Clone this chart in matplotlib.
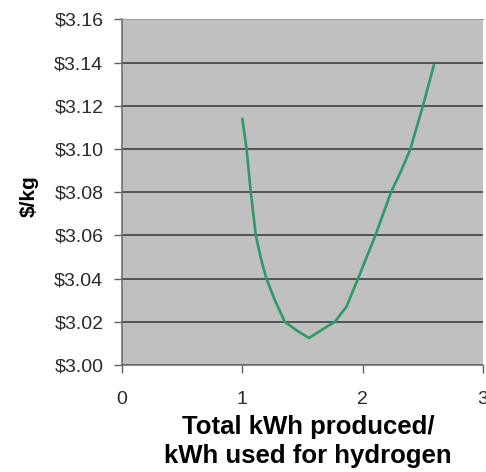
import numpy as np
import matplotlib.pyplot as plt
from matplotlib.ticker import FuncFormatter

# Ratio of total kWh produced to kWh used for hydrogen, and resulting cost
ratio = [1.00, 1.035, 1.07, 1.112, 1.151, 1.20, 1.27, 1.353, 1.452, 1.554,
         1.66, 1.768, 1.865, 1.961, 2.105, 2.235, 2.32, 2.396, 2.50, 2.592]
cost = [3.114, 3.100, 3.080, 3.060, 3.050, 3.040, 3.030, 3.020, 3.016, 3.0125,
        3.0163, 3.020, 3.027, 3.040, 3.060, 3.080, 3.090, 3.100, 3.120, 3.139]

x_ticks = [0, 1, 2, 3]
y_ticks = [3.00, 3.02, 3.04, 3.06, 3.08, 3.10, 3.12, 3.14, 3.16]

plt.rcParams['font.family'] = ['Liberation Sans', 'DejaVu Sans']

fig = plt.figure(figsize=(4.86, 4.72), dpi=100)
ax = fig.add_axes([0.251, 0.2267, 0.743, 0.732])
ax.set_facecolor("#c0c0c0")

ax.plot(ratio, cost, color="#2f9a66", linewidth=1.9,
        solid_joinstyle="round", solid_capstyle="round")

ax.set_xlim(0, 3)
ax.set_ylim(3.00, 3.16)
ax.set_xticks(x_ticks)
ax.set_yticks(y_ticks)
ax.yaxis.set_major_formatter(FuncFormatter(lambda v, p: f"${v:.2f}"))

ax.yaxis.grid(True, color="#4a4a4a", linewidth=1.3)
ax.tick_params(axis="both", direction="out", length=6, width=1,
               color="#606060", labelsize=14, labelcolor="#2a2a2a")
ax.tick_params(axis="y", pad=7.5)
ax.tick_params(axis="x", pad=13)

for side in ["left", "bottom"]:
    ax.spines[side].set_color("#707070")
    ax.spines[side].set_linewidth(1.2)
ax.spines["top"].set_color("#a0a0a0")
ax.spines["right"].set_visible(False)

ax.set_ylabel("$/kg", fontsize=15, fontweight="bold")
ax.yaxis.set_label_coords(-0.232, 0.49)
ax.set_xlabel("Total kWh produced/\nkWh used for hydrogen", fontsize=18.5,
              fontweight="bold", linespacing=1.25)
ax.xaxis.set_label_coords(0.515, -0.145)
ax.xaxis.label.set_va("top")

fig.savefig("out.png", dpi=100)
